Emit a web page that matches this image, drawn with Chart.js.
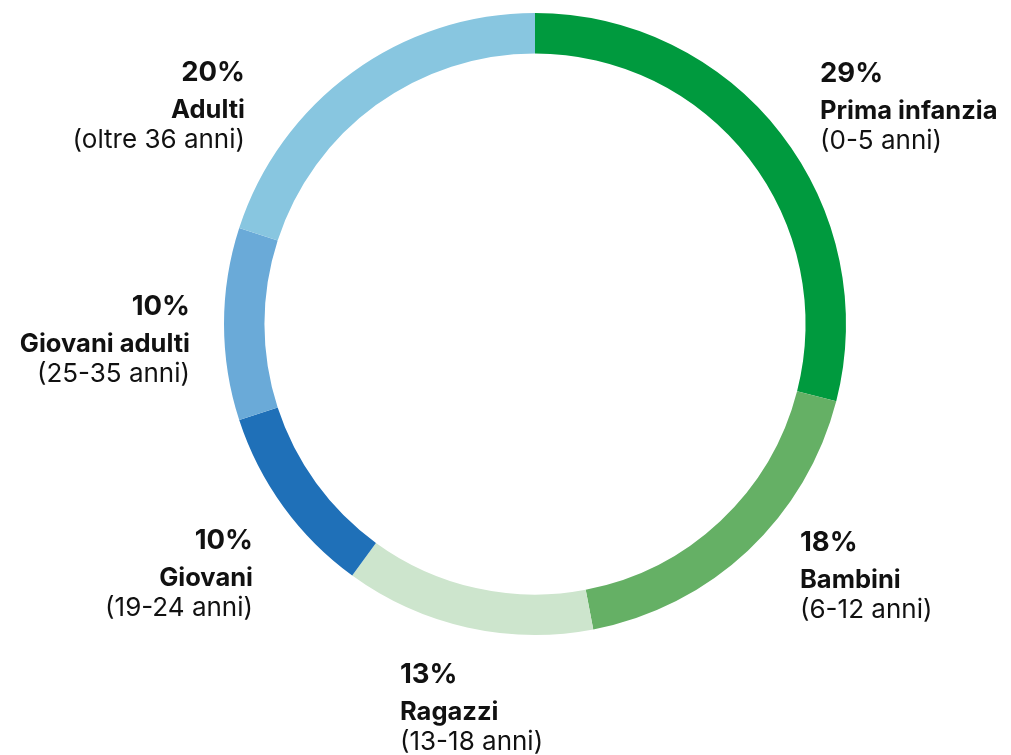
<!DOCTYPE html>
<html>
<head>
<meta charset="utf-8">
<script src="https://cdn.jsdelivr.net/npm/chart.js@4"></script>
<style>
  html, body { margin: 0; padding: 0; background: #fff; }
  #wrap { position: relative; width: 1011px; height: 755px; }
</style>
</head>
<body>
<div id="wrap"><canvas id="ciambella"></canvas></div>
<script>
// dati
const categorie = ['Prima infanzia', 'Bambini', 'Ragazzi', 'Giovani', 'Giovani adulti', 'Adulti'];
const fasce = ['(0-5 anni)', '(6-12 anni)', '(13-18 anni)', '(19-24 anni)', '(25-35 anni)', '(oltre 36 anni)'];
const percentuali = [29, 18, 13, 10, 10, 20];
const colori = ['#009a3e', '#65b065', '#cde5cd', '#1f70b8', '#6aaad8', '#88c6e0'];

// posizione delle etichette rispetto al centro della ciambella (dx, dy della prima riga, allineamento)
const posEtichette = [
    { dx: 285, dy: -242, align: 'left' },
    { dx: 265, dy: 227, align: 'left' },
    { dx: -135, dy: 359, align: 'left' },
    { dx: -282, dy: 225, align: 'right' },
    { dx: -345, dy: -9, align: 'right' },
    { dx: -290, dy: -243, align: 'right' }
];

const FONT = 'Inter, Roboto, "Liberation Sans", sans-serif';

const pluginEtichette = {
    id: 'etichette',
    afterDraw(chart) {
        const ctx = chart.ctx;
        const arc = chart.getDatasetMeta(0).data[0];
        if (!arc) return;
        const cx = arc.x, cy = arc.y;
        ctx.save();
        ctx.fillStyle = '#111';
        ctx.textBaseline = 'alphabetic';
        posEtichette.forEach((p, i) => {
            const x = cx + p.dx;
            const y = cy + p.dy;
            ctx.textAlign = p.align;
            ctx.font = '700 27.5px ' + FONT;
            ctx.fillText(percentuali[i] + '%', x, y);
            ctx.font = '700 25.5px ' + FONT;
            ctx.fillText(categorie[i], x, y + 37);
            ctx.font = '400 26px ' + FONT;
            ctx.fillText(fasce[i], x, y + 67);
        });
        ctx.restore();
    }
};

const ctx = document.getElementById('ciambella').getContext('2d');
const grafico = new Chart(ctx, {
    type: 'doughnut',
    data: {
        labels: categorie,
        datasets: [{
            data: percentuali,
            backgroundColor: colori,
            borderWidth: 0,
            hoverOffset: 0
        }]
    },
    options: {
        responsive: true,
        maintainAspectRatio: false,
        animation: false,
        cutout: '87%',
        rotation: 0,
        layout: {
            padding: { left: 224, right: 165, top: 13, bottom: 120 }
        },
        plugins: {
            legend: { display: false },
            tooltip: { enabled: false }
        }
    },
    plugins: [pluginEtichette]
});
</script>
</body>
</html>
